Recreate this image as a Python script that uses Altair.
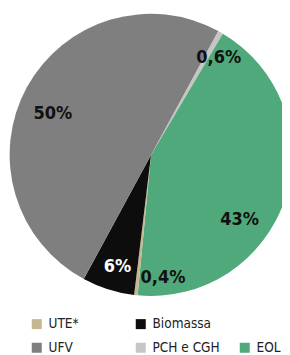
import math
import altair as alt
import pandas as pd

categories = ["PCH e CGH", "EOL", "UTE*", "Biomassa", "UFV"]
values = [0.6, 43, 0.4, 6, 50]
labels = ["0,6%", "43%", "0,4%", "6%", "50%"]

# legend is laid out column by column (2 rows x 3 columns)
legend_order = ["UTE*", "UFV", "Biomassa", "PCH e CGH", " ", "EOL"]
legend_colors = ["#c4b98e", "#7f7f7f", "#0d0d0d", "#c6c6c6", "transparent", "#4fa97a"]

df = pd.DataFrame({"cat": categories, "value": values, "label": labels,
                   "order": list(range(len(categories)))})

start = 0.497
theta_scale = alt.Scale(domain=[0, 100], range=[start, start + 2 * math.pi])
FONT = "DejaVu Sans Condensed"
CX, CY, R = 143, 147, 141

color = alt.Color("cat:N", scale=alt.Scale(domain=legend_order, range=legend_colors),
                  legend=alt.Legend(title=None, orient="none", legendX=22, legendY=309,
                                    columns=3, gridAlign="all", columnPadding=18,
                                    rowPadding=9, symbolType="square", symbolSize=100,
                                    symbolStrokeWidth=0, labelFont=FONT, labelFontSize=13.5,
                                    labelColor="#222222", labelOffset=5))

base = alt.Chart(df)

arcs = base.mark_arc(radius=R).encode(
    theta=alt.Theta("value:Q", stack=True, scale=theta_scale),
    color=color,
    order=alt.Order("order:Q"),
    x=alt.value(CX), y=alt.value(CY),
)

lbl = base.transform_window(
    cum="sum(value)", sort=[alt.SortField("order")]
).transform_calculate(mid="datum.cum - datum.value / 2")

def label_layer(cat, r, dx, dy, col):
    return lbl.transform_filter(alt.datum.cat == cat).mark_text(
        radius=r, dx=dx, dy=dy, font=FONT, fontSize=18, fontWeight="bold", color=col
    ).encode(
        theta=alt.Theta("mid:Q", stack=None, scale=theta_scale),
        text="label:N",
        x=alt.value(CX), y=alt.value(CY),
    )

texts = [
    label_layer("PCH e CGH", 119, 9, 7, "#111111"),
    label_layer("EOL", 108, -14, 32, "#111111"),
    label_layer("UTE*", 121, 25, 3, "#111111"),
    label_layer("Biomassa", 117, 2, 1, "#ffffff"),
    label_layer("UFV", 107, -4, 10, "#111111"),
]

chart = alt.layer(arcs, *texts).properties(
    width=274, height=290,
    padding={"left": 0, "top": 0, "right": 0, "bottom": 56},
    autosize=alt.AutoSizeParams(type="none"),
).configure_view(stroke=None)

chart.save("out.html", embed_options={"renderer": "svg", "actions": False})
